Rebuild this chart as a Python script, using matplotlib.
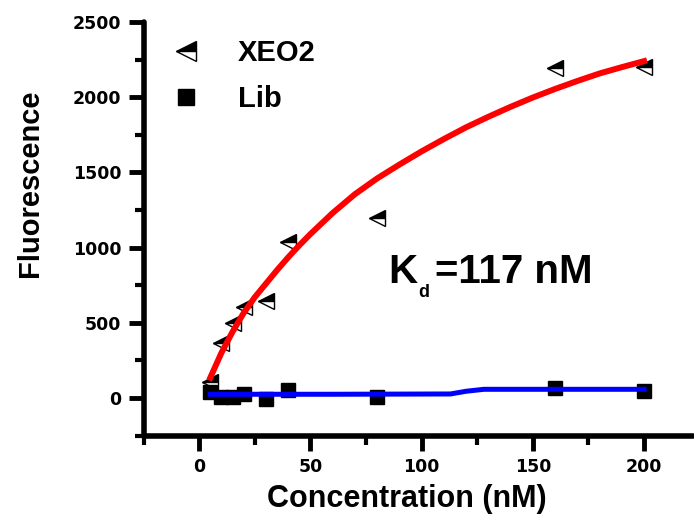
import matplotlib
matplotlib.use("Agg")
import matplotlib.pyplot as plt
from matplotlib.ticker import MultipleLocator

# --- Dados ---
conc = [5, 10, 15, 20, 30, 40, 80, 160, 200]
xeo2 = [105, 365, 500, 605, 645, 1040, 1197, 2194, 2200]
lib = [40, 10, 5, 27, -5, 55, 7, 66, 47]

# curva ajustada (vermelha) e linha da biblioteca (azul)
fit_x = [5, 10, 15, 20, 25, 30, 35, 40, 45, 50, 60, 70, 80, 90, 100,
         110, 120, 130, 140, 150, 160, 170, 180, 190, 200]
fit_y = [135, 300, 440, 565, 670, 760, 850, 935, 1015, 1090, 1230, 1355,
         1460, 1552, 1640, 1722, 1800, 1870, 1936, 1998, 2055, 2108, 2158,
         2200, 2240]
lib_x = [5, 60, 113, 120, 128, 200]
lib_y = [25, 25, 27, 45, 58, 58]

xticks = [0, 50, 100, 150, 200]
yticks = [0, 500, 1000, 1500, 2000, 2500]

fig = plt.figure(figsize=(6.94, 5.17), dpi=100)
ax = fig.add_axes([0.2068, 0.1574, 0.7918, 0.80])

ax.plot(conc, xeo2, linestyle="none", marker="<", ms=12, fillstyle="top",
        markerfacecolor="black", markerfacecoloralt="white",
        markeredgecolor="black", markeredgewidth=1.0, label="XEO2", zorder=2)
ax.plot(conc, lib, linestyle="none", marker="s", ms=9.4, color="black",
        label="Lib", zorder=2)
ax.plot(fit_x, fit_y, color="#ff0000", linewidth=4.3, zorder=3)
ax.plot(lib_x, lib_y, color="#0000ff", linewidth=3.6, zorder=3)

ax.set_xlim(-25, 222)
ax.set_ylim(-250, 2500)
ax.set_xticks(xticks)
ax.set_yticks(yticks)
ax.xaxis.set_minor_locator(MultipleLocator(25))
ax.yaxis.set_minor_locator(MultipleLocator(250))

for s in ["top", "right"]:
    ax.spines[s].set_visible(False)
for s in ["left", "bottom"]:
    ax.spines[s].set_linewidth(4)
    ax.spines[s].set_capstyle("round")

ax.tick_params(which="major", direction="out", length=11, width=3.5, pad=5)
ax.tick_params(which="minor", direction="out", length=6.5, width=3)
for lab in ax.get_xticklabels() + ax.get_yticklabels():
    lab.set_fontfamily("DejaVu Sans")
    lab.set_fontweight("bold")
    lab.set_fontsize(12.5)

ax.set_xlabel("Concentration (nM)", fontsize=22, fontweight="bold",
              family="Liberation Sans", va="center")
ax.xaxis.set_label_coords(0.4795, -0.153)
ax.set_ylabel("Fluorescence", fontsize=21, fontweight="bold",
              family="Liberation Sans", va="center")
ax.yaxis.set_label_coords(-0.2066, 0.61)

ax.legend(loc="upper left", bbox_to_anchor=(0.2475, 0.925),
          bbox_transform=fig.transFigure, frameon=False, borderpad=0,
          borderaxespad=0, handlelength=1.0, handletextpad=1.26,
          labelspacing=0.62, markerscale=1.25,
          prop={"family": "Liberation Sans", "weight": "bold", "size": 21})

# K_d
fig.text(388 / 694, 1 - 283 / 517, "K", fontsize=29, fontweight="bold",
         family="Liberation Sans", va="baseline")
fig.text(418 / 694, 1 - 297 / 517, "d", fontsize=13, fontweight="bold",
         family="Liberation Sans", va="baseline")
fig.text(435 / 694, 1 - 283 / 517, "=117 nM", fontsize=29, fontweight="bold",
         family="Liberation Sans", va="baseline")

fig.savefig("out.png", dpi=100)
